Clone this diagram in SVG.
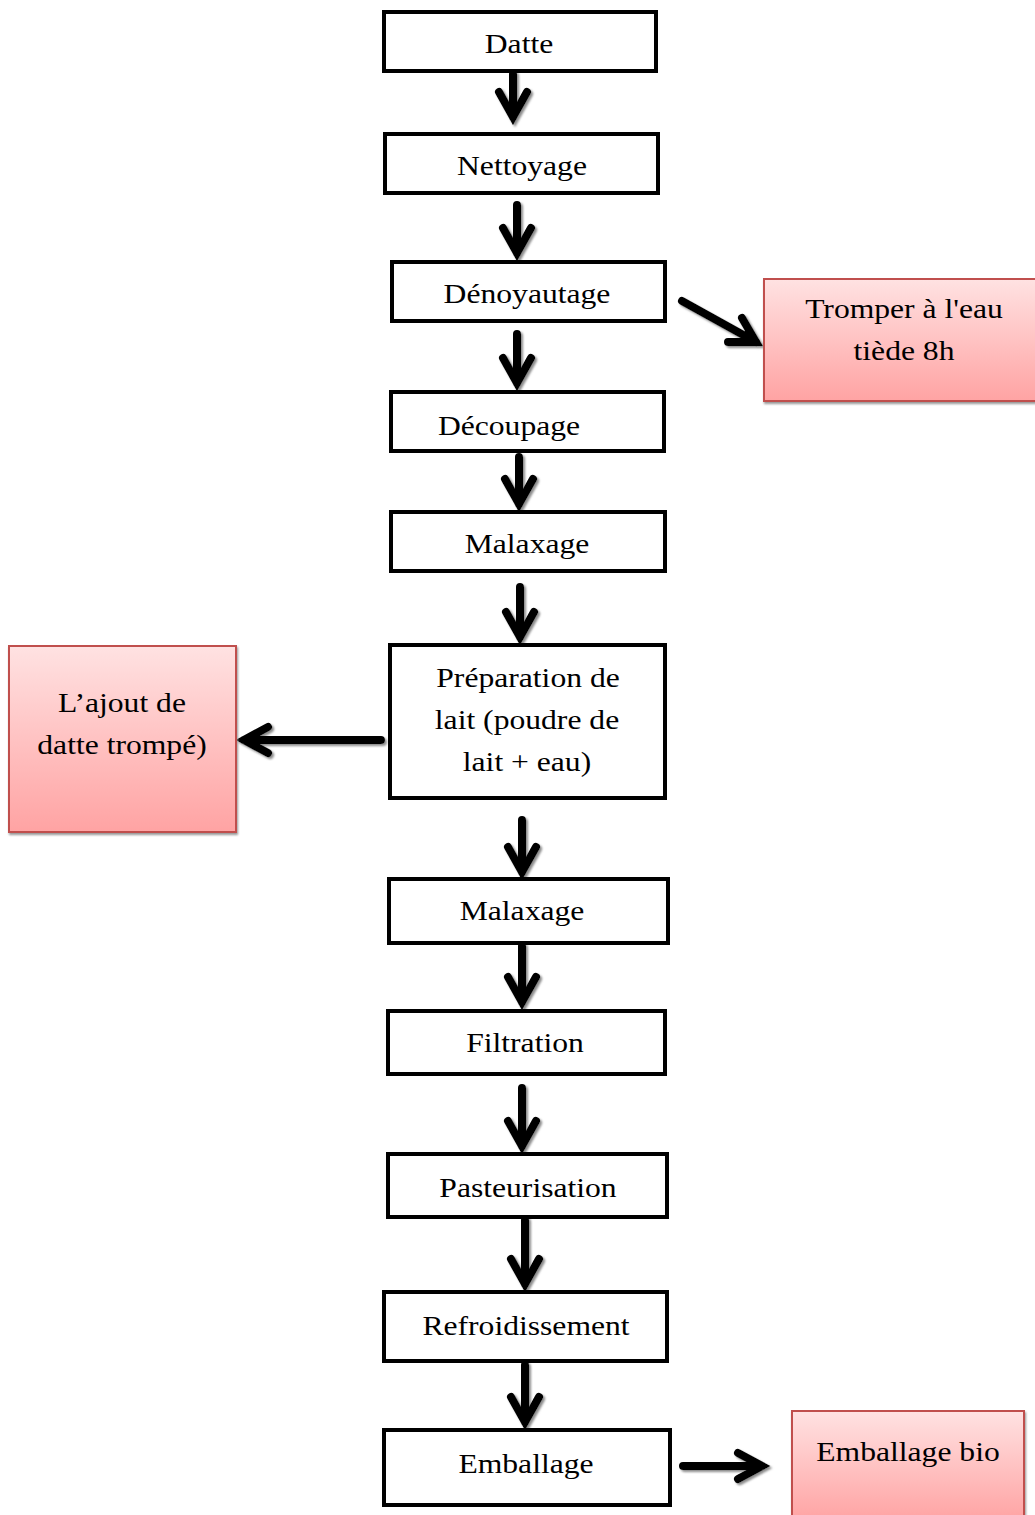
<svg xmlns="http://www.w3.org/2000/svg" width="1035" height="1515" viewBox="0 0 1035 1515">
  <style>
    .step { fill: #ffffff; stroke: #000000; stroke-width: 4; }
    .note { fill: url(#pinkFill); stroke: #c0504d; stroke-width: 2; filter: url(#boxShadow); }
    .lbl { font-family: "Liberation Serif", "Times New Roman", serif; font-size: 27.5px; fill: #000000; text-anchor: middle; }
    .arrow { fill: none; stroke: #000000; stroke-width: 8; stroke-linecap: round; stroke-linejoin: miter; filter: url(#arrowShadow); }
  </style>
  <defs>
    <linearGradient id="pinkFill" x1="0" y1="0" x2="0" y2="1">
      <stop offset="0" stop-color="#ffe2e2"/>
      <stop offset="1" stop-color="#ffa3a3"/>
    </linearGradient>
    <filter id="arrowShadow" x="-30%" y="-30%" width="160%" height="160%">
      <feDropShadow dx="2" dy="2" stdDeviation="1" flood-color="#7f7f7f" flood-opacity="0.9"/>
    </filter>
    <filter id="boxShadow" x="-5%" y="-5%" width="110%" height="110%">
      <feDropShadow dx="1" dy="2" stdDeviation="0.8" flood-color="#8c8c8c" flood-opacity="0.9"/>
    </filter>
  </defs>

  <rect width="1035" height="1515" fill="#ffffff"/>

  <!-- connectors -->
  <g id="connectors">
    <path class="arrow" d="M513 74 V117 M499 92 L513 117 L527 92"/>
    <path class="arrow" d="M517 205 V253 M503 228 L517 253 L531 228"/>
    <path class="arrow" d="M517 334 V383 M503 358 L517 383 L531 358"/>
    <path class="arrow" d="M519 457 V504 M505 479 L519 504 L533 479"/>
    <path class="arrow" d="M520 587 V637 M506 612 L520 637 L534 612"/>
    <path class="arrow" d="M522 820 V872 M508 847 L522 872 L536 847"/>
    <path class="arrow" d="M522 946 V1002 M508 977 L522 1002 L536 977"/>
    <path class="arrow" d="M522 1088 V1146 M508 1121 L522 1146 L536 1121"/>
    <path class="arrow" d="M525 1220 V1284 M511 1259 L525 1284 L539 1259"/>
    <path class="arrow" d="M525 1365 V1422 M511 1397 L525 1422 L539 1397"/>
    <!-- side branches -->
    <path class="arrow" d="M682 301 L756 342 M742 318 L756 342 L728 342"/>
    <path class="arrow" d="M381 740 H244 M268 727 L244 740 L268 753"/>
    <path class="arrow" d="M683 1466 H762 M738 1453 L762 1466 L738 1479"/>
  </g>

  <!-- process steps -->
  <g id="n-datte">
    <rect class="step" x="384" y="12" width="272" height="59"/>
    <text class="lbl" transform="translate(519 53) scale(1.15 1)">Datte</text>
  </g>
  <g id="n-nettoyage">
    <rect class="step" x="385" y="134" width="273" height="59"/>
    <text class="lbl" transform="translate(522 175) scale(1.15 1)">Nettoyage</text>
  </g>
  <g id="n-denoyautage">
    <rect class="step" x="392" y="262" width="273" height="59"/>
    <text class="lbl" transform="translate(527 303) scale(1.15 1)">Dénoyautage</text>
  </g>
  <g id="n-decoupage">
    <rect class="step" x="391" y="392" width="273" height="59"/>
    <text class="lbl" transform="translate(509 435) scale(1.15 1)">Découpage</text>
  </g>
  <g id="n-malaxage1">
    <rect class="step" x="391" y="512" width="274" height="59"/>
    <text class="lbl" transform="translate(527 553) scale(1.15 1)">Malaxage</text>
  </g>
  <g id="n-preparation">
    <rect class="step" x="390" y="645" width="275" height="153"/>
    <text class="lbl" transform="translate(528 687) scale(1.15 1)">Préparation de</text>
    <text class="lbl" transform="translate(527 729) scale(1.15 1)">lait (poudre de</text>
    <text class="lbl" transform="translate(527 771) scale(1.15 1)">lait + eau)</text>
  </g>
  <g id="n-malaxage2">
    <rect class="step" x="389" y="879" width="279" height="64"/>
    <text class="lbl" transform="translate(522 920) scale(1.15 1)">Malaxage</text>
  </g>
  <g id="n-filtration">
    <rect class="step" x="388" y="1011" width="277" height="63"/>
    <text class="lbl" transform="translate(525 1052) scale(1.15 1)">Filtration</text>
  </g>
  <g id="n-pasteurisation">
    <rect class="step" x="388" y="1154" width="279" height="63"/>
    <text class="lbl" transform="translate(528 1197) scale(1.15 1)">Pasteurisation</text>
  </g>
  <g id="n-refroidissement">
    <rect class="step" x="384" y="1292" width="283" height="69"/>
    <text class="lbl" transform="translate(526 1335) scale(1.15 1)">Refroidissement</text>
  </g>
  <g id="n-emballage">
    <rect class="step" x="384" y="1430" width="286" height="75"/>
    <text class="lbl" transform="translate(526 1473) scale(1.15 1)">Emballage</text>
  </g>

  <!-- side notes -->
  <g id="n-tremper">
    <rect class="note" x="764" y="279" width="275" height="122"/>
    <text class="lbl" transform="translate(904 318) scale(1.15 1)">Tromper à l'eau</text>
    <text class="lbl" transform="translate(904 360) scale(1.15 1)">tiède 8h</text>
  </g>
  <g id="n-ajout">
    <rect class="note" x="9" y="646" width="227" height="186"/>
    <text class="lbl" transform="translate(122 712) scale(1.15 1)">L’ajout de</text>
    <text class="lbl" transform="translate(122 754) scale(1.15 1)">datte trompé)</text>
  </g>
  <g id="n-emballage-bio">
    <rect class="note" x="792" y="1411" width="232" height="110"/>
    <text class="lbl" transform="translate(908 1461) scale(1.15 1)">Emballage bio</text>
  </g>
</svg>
